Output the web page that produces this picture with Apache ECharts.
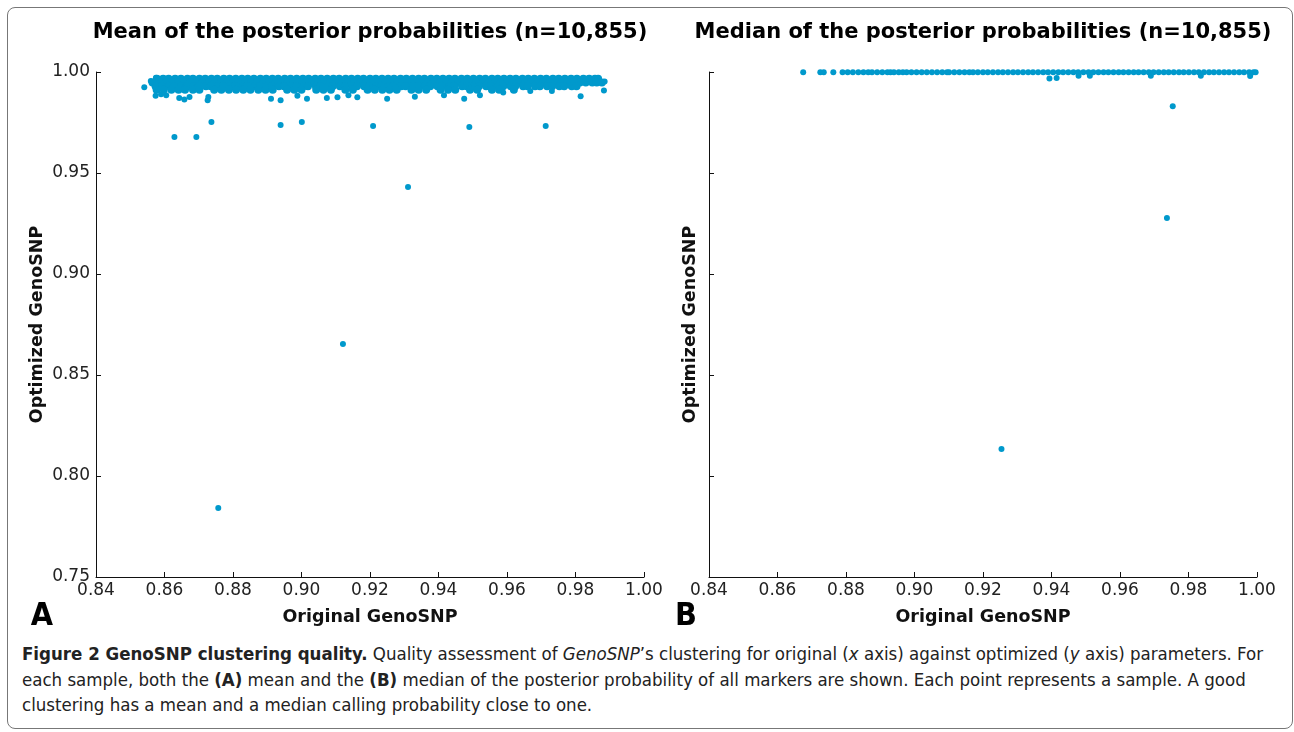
<!DOCTYPE html>
<html>
<head>
<meta charset="utf-8">
<script src="https://cdn.jsdelivr.net/npm/echarts@6/dist/echarts.min.js"></script>
<style>
  body { margin: 0; background: #fff; }
  #frame { position: absolute; left: 7px; top: 7px; width: 1284px; height: 720px;
           border: 1px solid #777; border-radius: 8px; }
  #chart { position: absolute; left: 0; top: 0; width: 1294px; height: 640px; }
  #caption { position: absolute; left: 22px; top: 641px; width: 1270px;
             font-family: 'Liberation Sans Narrow', 'DejaVu Sans Condensed', 'Noto Sans', sans-serif;
             font-stretch: condensed; font-size: 18.5px; line-height: 25.5px; color: #222; white-space: nowrap; }
</style>
</head>
<body>
<div id="frame"></div>
<div id="chart"></div>
<div id="caption">
  <b>Figure 2 GenoSNP clustering quality.</b> Quality assessment of <i>GenoSNP</i>’s clustering for original (<i>x</i> axis) against optimized (<i>y</i> axis) parameters. For<br>
  each sample, both the <b>(A)</b> mean and the <b>(B)</b> median of the posterior probability of all markers are shown. Each point represents a sample. A good<br>
  clustering has a mean and a median calling probability close to one.
</div>
<script>
  // x-axis tick values (shared by both panels)
  var xTicks = [0.84, 0.86, 0.88, 0.90, 0.92, 0.94, 0.96, 0.98, 1.00];
  var yTicks = [0.75, 0.80, 0.85, 0.90, 0.95, 1.00];
  var titles = ['Mean of the posterior probabilities (n=10,855)', 'Median of the posterior probabilities (n=10,855)'];

  // panel A: the dense band read as rows (one y per row)
  var meanBandY = [0.9966, 0.9948, 0.9930, 0.9912];
  var meanBandX = [
    [0.8578,0.8596,0.8612,0.8631,0.8648,0.8667,0.8683,0.8702,0.8719,0.8737,0.8754,0.8773,0.8790,0.8808,0.8826,0.8843,0.8861,0.8880,0.8897,0.8915,0.8932,0.8951,0.8968,0.8986,0.9004,0.9021,0.9040,0.9057,0.9075,0.9093,0.9110,0.9129,0.9146,0.9164,0.9181,0.9200,0.9217,0.9235,0.9253,0.9270,0.9289,0.9306,0.9324,0.9342,0.9359,0.9378,0.9395,0.9413,0.9431,0.9448,0.9467,0.9484,0.9502,0.9520,0.9537,0.9556,0.9573,0.9591,0.9609,0.9626,0.9645,0.9662,0.9680,0.9698,0.9715,0.9734,0.9751,0.9769,0.9787,0.9804,0.9823,0.9840,0.9857,0.9866],
    [0.8565,0.8587,0.8604,0.8622,0.8640,0.8657,0.8676,0.8693,0.8711,0.8729,0.8746,0.8764,0.8782,0.8800,0.8817,0.8835,0.8853,0.8870,0.8889,0.8906,0.8924,0.8942,0.8959,0.8977,0.8995,0.9013,0.9030,0.9049,0.9066,0.9084,0.9102,0.9119,0.9137,0.9155,0.9173,0.9190,0.9209,0.9226,0.9244,0.9262,0.9279,0.9297,0.9315,0.9333,0.9350,0.9369,0.9386,0.9404,0.9422,0.9439,0.9457,0.9475,0.9493,0.9510,0.9529,0.9546,0.9564,0.9582,0.9599,0.9617,0.9635,0.9653,0.9670,0.9689,0.9706,0.9724,0.9742,0.9759,0.9777,0.9795,0.9813,0.9830,0.9849,0.9862,0.9877],
    [0.8574,0.8593,0.8614,0.8629,0.8650,0.8665,0.8685,0.8700,0.8721,0.8735,0.8756,0.8771,0.8792,0.8806,0.8828,0.8841,0.8863,0.8878,0.8899,0.8913,0.8934,0.8949,0.8970,0.8984,0.9006,0.9019,0.9042,0.9055,0.9077,0.9091,0.9112,0.9127,0.9148,0.9162,0.9183,0.9198,0.9219,0.9233,0.9255,0.9268,0.9291,0.9304,0.9326,0.9340,0.9361,0.9376,0.9397,0.9411,0.9433,0.9446,0.9469,0.9482,0.9504,0.9518,0.9539,0.9554,0.9575,0.9589,0.9611,0.9624,0.9647,0.9660,0.9682,0.9696,0.9717,0.9732,0.9753,0.9767,0.9789,0.9803],
    [0.8577,0.8598,0.8620,0.8641,0.8660,0.8683,0.8702,0.8745,0.8766,0.8788,0.8809,0.8830,0.8851,0.8874,0.8895,0.8916,0.8958,0.8979,0.9000,0.9043,0.9064,0.9086,0.9128,0.9150,0.9193,0.9214,0.9236,0.9257,0.9278,0.9321,0.9342,0.9364,0.9406,0.9428,0.9449,0.9492,0.9513,0.9556,0.9577,0.9620]
  ];
  // panel A: loose points below the band and the outliers
  var meanOtherX = [0.8541,0.8560,0.8575,0.8574,0.8590,0.8605,0.8643,0.8658,0.8673,0.8726,0.8728,0.8911,0.8939,0.8988,0.9016,0.9074,0.9105,0.9137,0.9163,0.9250,0.9331,0.9416,0.9475,0.9521,0.9589,0.9668,0.9731,0.9815,0.9883,0.9885,
                    0.8629,0.8693,0.8737,0.8939,0.9001,0.9209,0.9490,0.9713,0.9311,0.9121,0.8757];
  var meanOtherY = [0.9925,0.9955,0.9972,0.9882,0.9890,0.9885,0.9871,0.9864,0.9876,0.9860,0.9876,0.9867,0.9860,0.9882,0.9867,0.9871,0.9875,0.9885,0.9875,0.9867,0.9878,0.9885,0.9867,0.9885,0.9899,0.9906,0.9906,0.9880,0.9908,0.9953,
                    0.9678,0.9678,0.9752,0.9738,0.9752,0.9733,0.9728,0.9733,0.9431,0.8653,0.7842];

  // panel B: the line of medians at 1.0
  var medLineY = 0.9999;
  var medLineX = [0.8675,0.8725,0.8735,0.8763,
    0.8790,0.8805,0.8820,0.8836,0.8851,0.8865,
    0.8876,0.8891,0.8906,0.8921,0.8930,
    0.8940,0.8954,0.8966,
    0.8977,0.8991,0.9006,0.9021,0.9036,0.9051,0.9066,0.9081,0.9095,
    0.9101,0.9116,0.9131,0.9146,0.9160,0.9171,
    0.9185,0.9200,0.9214,0.9229,0.9244,0.9258,0.9273,0.9288,0.9302,0.9317,0.9332,0.9346,0.9361,0.9376,0.9390,0.9405,0.9420,0.9434,0.9449,0.9464,0.9478,0.9493,0.9508,0.9522,0.9537,0.9552,0.9566,0.9581,0.9596,0.9610,0.9625,0.9640,0.9654,0.9669,0.9684,0.9698,0.9713,0.9728,0.9742,0.9757,0.9772,0.9786,0.9801,0.9816,0.9830,0.9845,0.9860,0.9874,0.9889,0.9904,0.9918,0.9933,0.9948,0.9962,0.9977,0.9990,0.9996];
  var medOtherX = [0.9394,0.9415,0.9479,0.9512,0.9690,0.9836,0.9980, 0.9754,0.9737,0.9254];
  var medOtherY = [0.9968,0.9970,0.9982,0.9982,0.9982,0.9982,0.9980, 0.9830,0.9277,0.8134];

  var dotColor = '#0099cc';

  var bandData = [];
  meanBandX.forEach(function (row, i) {
    row.forEach(function (x) { bandData.push([x, meanBandY[i]]); });
  });
  var meanData = [];
  meanOtherX.forEach(function (x, i) { meanData.push([x, meanOtherY[i]]); });

  var medData = [];
  medLineX.forEach(function (x) { medData.push([x, medLineY]); });
  medOtherX.forEach(function (x, i) { medData.push([x, medOtherY[i]]); });

  var grids = [
    { left: 96, top: 72, width: 548, height: 505 },
    { left: 709, top: 72, width: 548, height: 505 }
  ];

  var boldName = { fontFamily: 'DejaVu Sans', fontWeight: 'bold', fontSize: 17.5, color: '#111' };

  function xAxis(idx) {
    return {
      gridIndex: idx, type: 'value', min: xTicks[0], max: xTicks[xTicks.length - 1], interval: 0.02,
      name: 'Original GenoSNP', nameLocation: 'middle', nameGap: 31,
      nameTextStyle: boldName,
      axisLine: { onZero: false, lineStyle: { color: '#111', width: 1 } },
      axisTick: { inside: true, length: 5, lineStyle: { color: '#111' } },
      axisLabel: { fontFamily: 'DejaVu Sans', fontSize: 17, color: '#222', margin: 5,
        formatter: function (v) { return v.toFixed(2); } },
      splitLine: { show: false }
    };
  }
  function yAxis(idx, showLabels, gap) {
    return {
      gridIndex: idx, type: 'value', min: yTicks[0], max: yTicks[yTicks.length - 1], interval: 0.05,
      name: 'Optimized GenoSNP', nameLocation: 'middle', nameGap: gap,
      nameTextStyle: boldName,
      axisLine: { onZero: false, lineStyle: { color: '#111', width: 1 } },
      axisTick: { inside: true, length: 5, lineStyle: { color: '#111' } },
      axisLabel: { show: showLabels, fontFamily: 'DejaVu Sans', fontSize: 17, color: '#222', margin: 6,
        formatter: function (v) { return v.toFixed(2); } },
      splitLine: { show: false }
    };
  }

  function label(text, x, y, font) {
    return { type: 'text', x: x, y: y, silent: true,
      style: { text: text, font: font, fill: '#000', align: 'center', verticalAlign: 'middle',
               textAlign: 'center', textVerticalAlign: 'middle' } };
  }

  var chart = echarts.init(document.getElementById('chart'), null, { renderer: 'canvas' });
  chart.setOption({
    animation: false,
    grid: grids,
    xAxis: [xAxis(0), xAxis(1)],
    yAxis: [yAxis(0, true, 50), yAxis(1, false, 10)],
    graphic: [
      label(titles[0], 370, 33, 'bold 21px "DejaVu Sans"'),
      label(titles[1], 983, 33, 'bold 21px "DejaVu Sans"'),
      label('A', 42, 617, 'bold 32px "Liberation Sans Narrow", "DejaVu Sans Condensed", sans-serif'),
      label('B', 686, 617, 'bold 32px "Liberation Sans Narrow", "DejaVu Sans Condensed", sans-serif')
    ],
    series: [
      { type: 'scatter', xAxisIndex: 0, yAxisIndex: 0, data: bandData, symbolSize: 8,
        itemStyle: { color: dotColor, opacity: 1 } },
      { type: 'scatter', xAxisIndex: 0, yAxisIndex: 0, data: meanData, symbolSize: 6,
        itemStyle: { color: dotColor, opacity: 1 } },
      { type: 'scatter', xAxisIndex: 1, yAxisIndex: 1, data: medData, symbolSize: 6,
        itemStyle: { color: dotColor, opacity: 1 } }
    ]
  });
</script>
</body>
</html>
